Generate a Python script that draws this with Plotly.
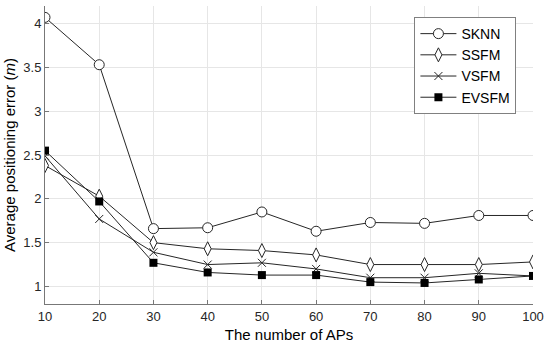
import plotly.graph_objects as go

aps = [10, 20, 30, 40, 50, 60, 70, 80, 90, 100]
sknn = [4.07, 3.53, 1.66, 1.67, 1.85, 1.63, 1.73, 1.72, 1.81, 1.81]
ssfm = [2.38, 2.03, 1.50, 1.43, 1.41, 1.36, 1.25, 1.25, 1.25, 1.28]
vsfm = [2.49, 1.77, 1.39, 1.25, 1.27, 1.20, 1.10, 1.10, 1.15, 1.12]
evsfm = [2.55, 1.97, 1.27, 1.16, 1.13, 1.13, 1.05, 1.04, 1.08, 1.12]
xticks = [10, 20, 30, 40, 50, 60, 70, 80, 90, 100]
yticks = [1, 1.5, 2, 2.5, 3, 3.5, 4]
ytick_text = ["1", "1.5", "2", "2.5", "3", "3.5", "4"]

line_col = "#262626"
fig = go.Figure()
fig.add_trace(go.Scatter(x=aps, y=sknn, name="SKNN", mode="lines+markers",
                         line=dict(color=line_col, width=1),
                         marker=dict(symbol="circle", size=10, color="white",
                                     line=dict(color=line_col, width=1))))
fig.add_trace(go.Scatter(x=aps, y=ssfm, name="SSFM", mode="lines+markers",
                         line=dict(color=line_col, width=1),
                         marker=dict(symbol="diamond-tall", size=10, color="white",
                                     line=dict(color=line_col, width=1))))
fig.add_trace(go.Scatter(x=aps, y=vsfm, name="VSFM", mode="lines+markers",
                         line=dict(color=line_col, width=1),
                         marker=dict(symbol="x-thin-open", size=8,
                                     line=dict(color=line_col, width=1))))
fig.add_trace(go.Scatter(x=aps, y=evsfm, name="EVSFM", mode="lines+markers",
                         line=dict(color=line_col, width=1),
                         marker=dict(symbol="square", size=8, color="black",
                                     line=dict(color="black", width=0))))

font_family = "Arial, Liberation Sans, sans-serif"
fig.update_layout(
    width=550, height=346,
    margin=dict(l=45, r=13, t=6, b=40),
    paper_bgcolor="white", plot_bgcolor="white",
    font=dict(family=font_family, color="#262626", size=13),
    showlegend=True,
    legend=dict(x=0.757, y=0.963, xanchor="left", yanchor="top",
                bordercolor="#808080", borderwidth=1, bgcolor="white",
                font=dict(size=14, color="#000000"),
                tracegroupgap=0, itemwidth=36),
    xaxis=dict(range=[10, 100], tickvals=xticks, ticks="inside", ticklen=4,
               tickcolor="#777777", showline=True, linecolor="#777777", linewidth=1,
               showgrid=True, gridcolor="#e6e6e6", gridwidth=1, zeroline=False,
               mirror=False, ticklabeloverflow="allow",
               title=dict(text="The number of APs", font=dict(size=15, color="#000000"),
                          standoff=6),
               tickfont=dict(size=13, color="#262626")),
    yaxis=dict(range=[0.8, 4.2], tickvals=yticks, ticktext=ytick_text,
               ticks="inside", ticklen=4, tickcolor="#777777",
               showline=True, linecolor="#777777", linewidth=1,
               showgrid=True, gridcolor="#e6e6e6", gridwidth=1, zeroline=False,
               title=dict(text="Average positioning error (<i>m</i>)",
                          font=dict(size=15, color="#000000"), standoff=4),
               tickfont=dict(size=13, color="#262626")),
)

fig.write_html(
    "out.html",
    config={"displayModeBar": False},
    post_script="document.body.style.margin='0';document.body.style.overflow='hidden';",
)
